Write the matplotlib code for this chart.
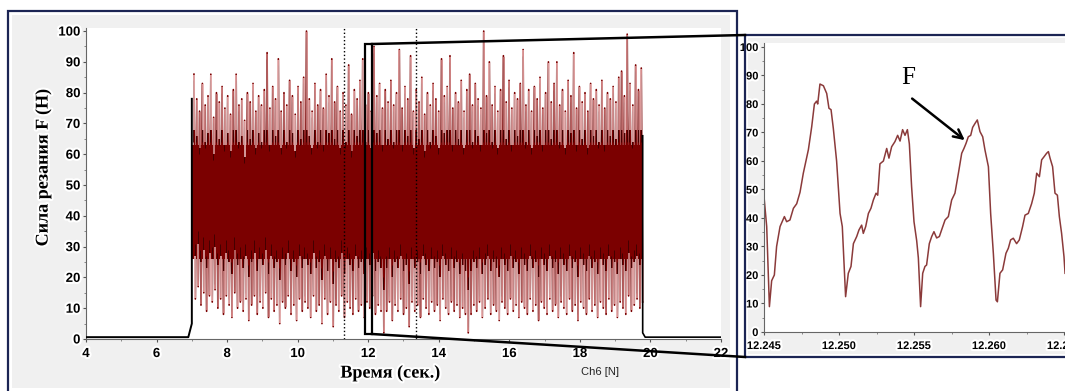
import numpy as np
import matplotlib.pyplot as plt
from matplotlib.patches import Rectangle
from matplotlib.lines import Line2D
import matplotlib.patheffects as pe

# upper peaks of the cutting force signal (N), read left to right, 7.05 .. 19.75 s
peaks_hi = [86, 78, 74, 83, 76, 79, 86, 72, 80, 77,
            82, 75, 79, 73, 81, 86, 76, 78, 71, 80,
            77, 83, 74, 79, 76, 81, 93, 75, 82, 78,
            91, 74, 80, 76, 84, 79, 73, 82, 77, 85,
            100, 78, 74, 83, 76, 81, 75, 86, 79, 91,
            77, 82, 74, 80, 76, 89, 73, 81, 78, 84,
            91, 76, 80, 74, 95, 79, 83, 75, 81, 77,
            84, 76, 80, 94, 75, 82, 78, 92, 74, 81,
            77, 85, 73, 80, 76, 83, 78, 74, 91, 79,
            82, 92, 75, 80, 77, 84, 74, 81, 86, 76,
            83, 78, 75, 100, 79, 90, 76, 82, 74, 81,
            92, 77, 84, 75, 80, 78, 83, 94, 76, 81,
            74, 82, 78, 85, 75, 80, 90, 77, 83, 90,
            76, 81, 74, 84, 79, 93, 75, 82, 77, 80,
            74, 83, 78, 81, 76, 84, 75, 80, 78, 82,
            77, 85, 87, 79, 99, 83, 76, 89, 81, 88]

# lower troughs (N)
troughs_lo = [13, 17, 11, 15, 9, 14, 12, 16, 10, 13,
              8, 14, 11, 7, 15, 10, 12, 9, 13, 6,
              11, 14, 8, 12, 10, 15, 7, 13, 9, 11,
              5, 12, 10, 14, 8, 11, 6, 13, 9, 12,
              10, 7, 14, 9, 11, 5, 13, 8, 12, 4,
              11, 9, 14, 7, 12, 10, 8, 13, 9, 11,
              7, 12, 10, 14, 8, 11, 9, 2, 9, 12,
              6, 11, 9, 13, 8, 10, 4, 12, 9, 11,
              7, 13, 10, 8, 12, 9, 11, 6, 13, 10,
              8, 12, 9, 11, 7, 10, 8, 2, 8, 11,
              9, 12, 7, 10, 13, 8, 11, 9, 6, 12,
              10, 8, 13, 9, 11, 7, 12, 10, 8, 13,
              9, 11, 6, 12, 10, 8, 13, 9, 11, 7,
              12, 10, 8, 13, 9, 11, 6, 12, 10, 8,
              13, 9, 11, 7, 12, 10, 8, 13, 9, 11,
              7, 12, 10, 8, 14, 9, 11, 13, 10, 12]

# zoomed fragment 12.245 .. 12.265 s
zoom_t = [12.24500, 12.24518, 12.24536, 12.24551, 12.24569, 12.24584, 12.24607, 12.24636,
          12.24651, 12.24673, 12.24696, 12.24718, 12.24740, 12.24762, 12.24796, 12.24818,
          12.24836, 12.24851, 12.24858, 12.24873, 12.24896, 12.24918, 12.24933, 12.24947,
          12.24962, 12.24984, 12.25007, 12.25022, 12.25044, 12.25062, 12.25080, 12.25096,
          12.25118, 12.25133, 12.25151, 12.25162, 12.25178, 12.25196, 12.25213, 12.25229,
          12.25247, 12.25258, 12.25273, 12.25296, 12.25318, 12.25333, 12.25351, 12.25373,
          12.25391, 12.25407, 12.25424, 12.25440, 12.25456, 12.25469, 12.25484, 12.25500,
          12.25518, 12.25529, 12.25544, 12.25558, 12.25573, 12.25584, 12.25602, 12.25618,
          12.25633, 12.25651, 12.25669, 12.25684, 12.25707, 12.25729, 12.25751, 12.25773,
          12.25796, 12.25818, 12.25833, 12.25847, 12.25862, 12.25878, 12.25891, 12.25907,
          12.25922, 12.25940, 12.25958, 12.25973, 12.25996, 12.26011, 12.26029, 12.26047,
          12.26056, 12.26073, 12.26091, 12.26113, 12.26129, 12.26144, 12.26162, 12.26184,
          12.26202, 12.26224, 12.26240, 12.26262, 12.26284, 12.26302, 12.26318, 12.26336,
          12.26351, 12.26367, 12.26384, 12.26396, 12.26407, 12.26424, 12.26440, 12.26456,
          12.26469, 12.26484, 12.26500, 12.26507]
zoom_f = [47.5, 37, 8.9, 18, 20, 30, 37, 40.5,
          38.7, 39.3, 43.4, 45, 49, 55.7, 64, 72,
          80, 81, 80, 87, 86.4, 83.7, 78.5, 78,
          71.5, 60, 41.6, 37, 12.4, 20.6, 23, 31,
          33.5, 35.8, 37.5, 34.6, 37, 41.6, 43.4, 46.3,
          48.7, 48, 59, 60, 64.4, 61, 65, 66.8,
          69, 67, 71, 69, 71, 66, 51, 38.7,
          32, 26, 8.9, 20.6, 23, 23.5, 31, 33.5,
          35.2, 33, 33.5, 35.8, 39.3, 40.5, 46.3, 48.7,
          55.7, 62.7, 64.4, 66.2, 68.5, 69, 71.8, 73.2,
          74.4, 70.3, 68.5, 63.9, 58, 41.6, 27.6, 11.2,
          10.6, 20.6, 21.8, 27.6, 29.4, 32.3, 32.9, 31,
          32.3, 37, 41, 41.6, 45, 48.7, 55.7, 54.5,
          60.4, 61.5, 62.7, 63.3, 61, 58, 48.7, 48,
          40.5, 34.6, 26.4, 20.6]

W, H = 1065, 391
navy = '#1c2554'
halo = [pe.withStroke(linewidth=3, foreground='white')]


def fx(x):
    return x / W


def fy(y):
    return 1 - y / H


def frame(fig, x0, y0, x1, y1, **kw):
    fig.add_artist(Rectangle((fx(x0), fy(y1)), (x1 - x0) / W, (y1 - y0) / H,
                             transform=fig.transFigure, **kw))


fig = plt.figure(figsize=(W / 100, H / 100), dpi=100)
fig.patch.set_facecolor('white')

# panel backgrounds and borders
frame(fig, 12, 15, 730, 388, facecolor='#f0f0f0', edgecolor='none', zorder=0)
frame(fig, 8, 11, 737, 396, facecolor='none', edgecolor=navy, lw=1.6, zorder=5)
frame(fig, 748, 38, 1080, 354, facecolor='#f0f0f0', edgecolor='none', zorder=0)
frame(fig, 745, 35, 1080, 357, facecolor='none', edgecolor=navy, lw=1.6, zorder=5)

# left: whole record
ax = fig.add_axes([fx(86), fy(339), (721 - 86) / W, (339 - 28) / H])
ax.set_facecolor('white')
ax.set_xlim(4, 22)
ax.set_ylim(0, 101)

ph = np.array(peaks_hi, dtype=float)
pl = np.array(troughs_lo, dtype=float)
t_hi = np.linspace(7.06, 19.74, len(ph))
step = t_hi[1] - t_hi[0]
t_lo = t_hi + step / 2
zig_t = np.column_stack([t_hi, t_lo]).ravel()
zig_f = np.column_stack([ph, pl]).ravel()
pinks = ['#f5c6c6', '#e3a0a0', '#c97878', '#f0b8b8', '#d99090', '#eab0b0']

ax.plot(zig_t, zig_f, color='#7b0000', lw=1.2, zorder=2)
ax.fill_between([7.0, 19.78], 26, 63, color='#7b0000', lw=0, zorder=3)
# dark edges and light centres of the individual spikes
ax.vlines(t_hi - step * 0.22, np.minimum(ph - 14, 64), ph - 2, colors='#3a0000', lw=0.6, zorder=4)
ax.vlines(t_hi + step * 0.05, np.minimum(ph - 12, 68), ph - 0.3, colors=pinks, lw=1.1, zorder=5)
ax.vlines(t_lo - step * 0.22, pl + 2, pl + 18, colors='#3a0000', lw=0.6, zorder=4)
ax.vlines(t_lo + step * 0.05, pl + 0.3, pl + 14, colors=pinks, lw=1.1, zorder=5)

ax.plot([4, 6.9, 7.0, 7.0], [0.6, 0.6, 5, 78], color='black', lw=1.4, zorder=6)
ax.plot([19.78, 19.78, 19.85, 22], [66, 2, 0.6, 0.6], color='black', lw=1.2, zorder=6)

ax.axvline(11.32, color='black', ls=':', lw=1, zorder=7)
ax.axvline(13.35, color='black', ls=':', lw=1, zorder=7)
ax.add_patch(Rectangle((11.91, 1.6), 0.2, 94.2, fill=False, edgecolor='black', lw=1.6, zorder=8))

ax.set_xticks(np.arange(4, 23, 2))
ax.set_xticks(np.arange(5, 22, 2), minor=True)
ax.set_yticks(np.arange(0, 101, 10))
ax.set_yticks(np.arange(5, 100, 10), minor=True)

# right: zoomed fragment
ax2 = fig.add_axes([fx(764), fy(332), (1080 - 764) / W, (332 - 43) / H])
ax2.set_facecolor('white')
ax2.set_xlim(12.245, 12.245 + 316 / 15000)
ax2.set_ylim(0, 101.4)
ax2.plot(zoom_t, zoom_f, color='#8b3a3a', lw=1.1)
ax2.set_xticks([12.245, 12.250, 12.255, 12.260, 12.265])
ax2.set_xticklabels(['12.245', '12.250', '12.255', '12.260', '12.265'])
ax2.set_xticks([12.2475, 12.2525, 12.2575, 12.2625], minor=True)
ax2.set_yticks(np.arange(0, 101, 10))
ax2.set_yticks(np.arange(5, 100, 10), minor=True)
ax2.annotate('', xy=(12.25853, 66.7), xytext=(12.25473, 82.5),
             arrowprops=dict(arrowstyle='->', color='black', lw=1.8, mutation_scale=16))
ax2.text(12.2546, 89, 'F', fontsize=18, family='Liberation Serif', ha='center', va='center')

for a, fs, fam in [(ax, 9.5, 'Liberation Sans'), (ax2, 8, 'Liberation Sans Narrow')]:
    for s in ['top', 'right']:
        a.spines[s].set_visible(False)
    for s in ['left', 'bottom']:
        a.spines[s].set_color('#666666')
        a.spines[s].set_linewidth(0.8)
    a.tick_params(which='major', length=2.5, width=0.8, color='#555555', pad=1.5)
    a.tick_params(which='minor', length=1.5, width=0.6, color='#777777')
    a.tick_params(axis='x', pad=4)
    for lab in a.get_xticklabels() + a.get_yticklabels():
        lab.set_family([fam, 'Liberation Sans'])
        lab.set_fontsize(fs)
        lab.set_fontweight('bold')
        lab.set_path_effects(halo)

fig.text(fx(43), fy(168), 'Сила резания F (Н)', rotation=90, ha='center', va='center',
         family='Liberation Serif', fontweight='bold', fontsize=13, path_effects=halo)
fig.text(fx(390), fy(373), 'Время (сек.)', ha='center', va='center',
         family='Liberation Serif', fontweight='bold', fontsize=13, path_effects=halo)
fig.text(fx(600), fy(372), 'Ch6 [N]', ha='center', va='center',
         family='Liberation Sans', fontsize=8, color='#222222')

# lines joining the marked window with the zoomed panel
for (x0, y0), (x1, y1) in [((372, 44), (745, 35)), ((372, 334), (745, 357))]:
    fig.add_artist(Line2D([fx(x0), fx(x1)], [fy(y0), fy(y1)], transform=fig.transFigure,
                          color='black', lw=1.8, zorder=10))

fig.savefig('out.png', dpi=100)
